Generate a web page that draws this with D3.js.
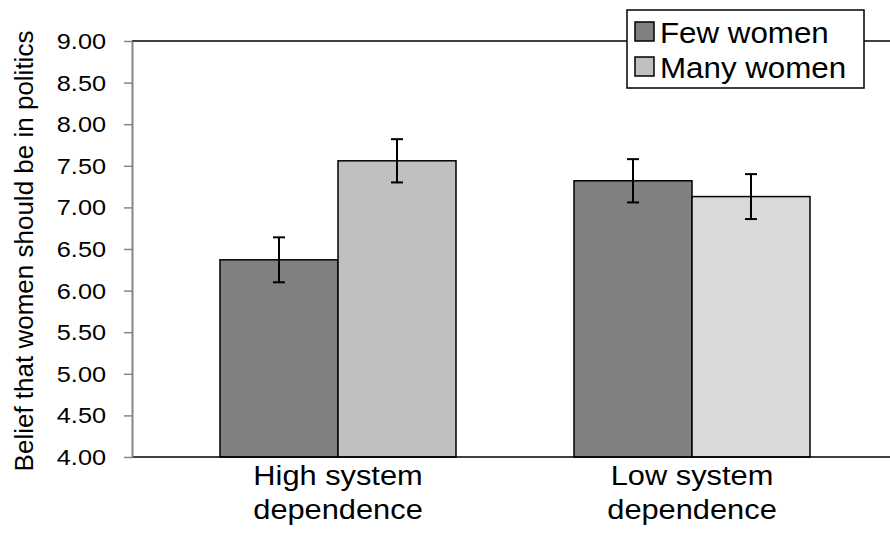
<!DOCTYPE html>
<html>
<head>
<meta charset="utf-8">
<script src="https://cdn.jsdelivr.net/npm/d3@7"></script>
<style>
  body { margin: 0; background: #fff; }
  text { font-family: Arial, "Liberation Sans", sans-serif; fill: #000; }
</style>
</head>
<body>
<div id="chart"></div>
<script>
// data
var categories = ["High system dependence", "Low system dependence"];
var series = ["Few women", "Many women"];
var fewWomen = [6.37, 7.32];
var manyWomen = [7.56, 7.13];
var fewErr = [0.27, 0.26];
var manyErr = [0.26, 0.27];
var yTicks = [4.0, 4.5, 5.0, 5.5, 6.0, 6.5, 7.0, 7.5, 8.0, 8.5, 9.0];

var W = 890, H = 534;
var plotLeft = 132, plotTop = 41, plotBottom = 457;

// the original picture is a bit stretched sideways
var sx = 1.15;

var fills = {"Few women": ["#808080", "#808080"], "Many women": ["#c0c0c0", "#d9d9d9"]};

var rows = categories.map(function(c, i){
  return {cat: c, bars: [
    {s: series[0], v: fewWomen[i], e: fewErr[i], i: i},
    {s: series[1], v: manyWomen[i], e: manyErr[i], i: i}
  ]};
});

var svg = d3.select("#chart").append("svg")
  .attr("width", W)
  .attr("height", H);

var y = d3.scaleLinear().domain([4, 9]).range([plotBottom, plotTop]);
var x0 = d3.scaleBand().domain(categories).range([161, 869]);
var x1 = d3.scaleBand().domain(series).range([0, x0.bandwidth()]).paddingOuter(0.5);

// top frame line
svg.append("line")
  .attr("x1", plotLeft).attr("x2", W)
  .attr("y1", y(9)).attr("y2", y(9))
  .attr("stroke", "#000").attr("stroke-width", 1.5);

// bars
var g = svg.selectAll("g.cat")
  .data(rows)
  .enter().append("g")
  .attr("class", "cat")
  .attr("transform", function(d){ return "translate(" + x0(d.cat) + ",0)"; });

g.selectAll("rect")
  .data(function(d){ return d.bars; })
  .enter().append("rect")
  .attr("x", function(d){ return x1(d.s); })
  .attr("y", function(d){ return y(d.v); })
  .attr("width", x1.bandwidth())
  .attr("height", function(d){ return y(4) - y(d.v); })
  .attr("fill", function(d){ return fills[d.s][d.i]; })
  .attr("stroke", "#000")
  .attr("stroke-width", 1.5);

// error bars
var eb = g.selectAll("g.err")
  .data(function(d){ return d.bars; })
  .enter().append("g")
  .attr("class", "err")
  .attr("stroke", "#000")
  .attr("stroke-width", 2);

eb.append("line")
  .attr("x1", function(d){ return x1(d.s) + x1.bandwidth()/2; })
  .attr("x2", function(d){ return x1(d.s) + x1.bandwidth()/2; })
  .attr("y1", function(d){ return y(d.v + d.e); })
  .attr("y2", function(d){ return y(d.v - d.e); });

[1, -1].forEach(function(k){
  eb.append("line")
    .attr("x1", function(d){ return x1(d.s) + x1.bandwidth()/2 - 6; })
    .attr("x2", function(d){ return x1(d.s) + x1.bandwidth()/2 + 6; })
    .attr("y1", function(d){ return y(d.v + k*d.e); })
    .attr("y2", function(d){ return y(d.v + k*d.e); });
});

// bottom line
svg.append("line")
  .attr("x1", plotLeft).attr("x2", W)
  .attr("y1", y(4)).attr("y2", y(4))
  .attr("stroke", "#000").attr("stroke-width", 1.5);

// y axis
var yAxis = svg.append("g")
  .attr("transform", "translate(" + plotLeft + ",0)")
  .call(d3.axisLeft(y).tickValues(yTicks).tickFormat(d3.format(".2f")).tickSize(8).tickSizeOuter(0));

yAxis.select(".domain").attr("stroke", "#868686").attr("stroke-width", 2);
yAxis.selectAll(".tick line").attr("stroke", "#868686").attr("stroke-width", 1.5);
yAxis.selectAll(".tick text")
  .attr("font-size", 22)
  .attr("font-family", "Arial, 'Liberation Sans', sans-serif")
  .attr("fill", "#000")
  .attr("x", -26 / sx)
  .attr("dy", "0.34em")
  .attr("transform", "scale(" + sx + ",1)");

// y title
svg.append("text")
  .attr("transform", "translate(33," + ((plotTop + plotBottom) / 2 + 2) + ") rotate(-90)")
  .attr("text-anchor", "middle")
  .attr("font-size", 26)
  .text("Belief that women should be in politics");

// category labels, two lines each
var cl = svg.selectAll("g.clab")
  .data(categories)
  .enter().append("g")
  .attr("class", "clab")
  .attr("transform", function(d){ return "translate(" + (x0(d) + x0.bandwidth()/2) + ",0) scale(1.1,1)"; });

cl.append("text")
  .attr("text-anchor", "middle")
  .attr("y", 485)
  .attr("font-size", 28)
  .text(function(d){ return d.split(" ").slice(0, 2).join(" "); });

cl.append("text")
  .attr("text-anchor", "middle")
  .attr("y", 519)
  .attr("font-size", 28)
  .text(function(d){ return d.split(" ").slice(2).join(" "); });

// legend
var lg = svg.append("g").attr("transform", "translate(627,10)");
lg.append("rect")
  .attr("width", 237).attr("height", 78)
  .attr("fill", "#fff").attr("stroke", "#000").attr("stroke-width", 1.5);

var li = lg.selectAll("g.item")
  .data(series)
  .enter().append("g")
  .attr("class", "item")
  .attr("transform", function(d, i){ return "translate(8," + (12 + i*35) + ")"; });

li.append("rect")
  .attr("width", 19).attr("height", 19)
  .attr("fill", function(d){ return fills[d][0]; })
  .attr("stroke", "#000").attr("stroke-width", 1.5);

li.append("text")
  .attr("transform", "translate(25,21) scale(1.08,1)")
  .attr("font-size", 29)
  .text(function(d){ return d; });
</script>
</body>
</html>
